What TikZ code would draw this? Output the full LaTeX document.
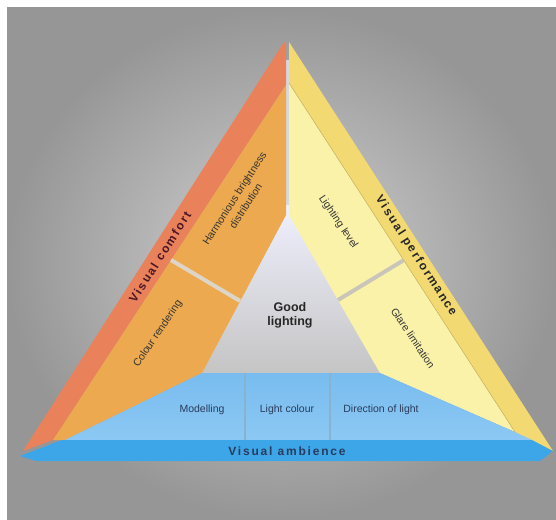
\documentclass[tikz,border=0pt]{standalone}
\usepackage{fontspec}
\setmainfont{Liberation Sans}
\newfontfamily\spacedfont[LetterSpace=15]{Liberation Sans}
\usepackage{tikz}
\usetikzlibrary{shapes.geometric, backgrounds, positioning, calc}

\definecolor{bggray}{HTML}{969696}
\definecolor{bglight}{HTML}{D2D2D2}
\definecolor{comfortred}{HTML}{E9825A}
\definecolor{comfortpanel}{HTML}{ECA94F}
\definecolor{perfyellow}{HTML}{F2D972}
\definecolor{perfpanel}{HTML}{FBF2AA}
\definecolor{perfedge}{HTML}{C9B462}
\definecolor{ambblue}{HTML}{3DA6E8}
\definecolor{ambpanel}{HTML}{78BCEF}
\definecolor{ambpanellow}{HTML}{8CC8F3}
\definecolor{divider}{HTML}{DDD6C8}
\definecolor{gapgray}{HTML}{D8D8DC}
\definecolor{labelgray}{HTML}{343434}
\definecolor{labelnavy}{HTML}{2A3B5C}
\definecolor{comforttext}{HTML}{4B1726}

\tikzset{
  side label/.style={font=\spacedfont\bfseries\fontsize{12}{14}\selectfont},
  panel label/.style={font=\fontsize{10.5}{13.5}\selectfont, text=labelgray, align=center, inner sep=1pt},
  split/.style={draw=divider, line width=4pt},
  blue split/.style={draw=ambpanellow!70!gray, line width=1.5pt},
}

\begin{document}
\begin{tikzpicture}[x=1pt,y=-1pt]
\useasboundingbox (0,0) rectangle (556,519);
\fill[white] (0,0) rectangle (556,519);
% The backdrop
\shade[inner color=bglight, outer color=bggray] (7,8) rectangle (556,519);
% Centre triangle
\fill[gapgray] (286,60) -- (289,60) -- (289,215) -- (286,215) -- cycle;
\shade[top color=white!94!blue, bottom color=black!23] (286,205) -- (289,205) -- (383,374) -- (199,374) -- cycle;
% Left side: visual comfort
\fill[comfortred] (284,42) -- (23,451) -- (53,440) -- (286,85) -- (286,44) -- cycle;
\fill[comfortpanel] (286,85) -- (53,440) -- (65,440) -- (202,373) -- (286,215) -- cycle;
\draw[split] (171,260) -- (240,301);
% Right side: visual performance
\fill[perfyellow] (289,42) -- (553,451) -- (530,441) -- (515,432) -- (289,83) -- cycle;
\fill[perfpanel] (289,83) -- (515,432) -- (380,373) -- (289,215) -- cycle;
\draw[perfedge, line width=0.6pt] (289,83) -- (515,432);
\draw[split, divider!80!gray] (338,300) -- (404,260);
% Bottom: visual ambience
\shade[top color=ambpanel, bottom color=ambpanellow] (202,373) -- (380,373) -- (515,432) -- (532,440) -- (65,440) -- cycle;
\draw[blue split] (245,373) -- (245,440);
\draw[blue split] (330,373) -- (330,440);
\fill[ambblue] (20,456) -- (62,440) -- (532,440) -- (553,451) -- (540,461) -- (36,461) -- cycle;

% Labels
\node[side label, text=comforttext, rotate=57.5] (comfort) at (160,257) {Visual comfort};
\node[side label, text=black!85, rotate=-57.2] (performance) at (416,256) {Visual performance};
\node[side label, text=labelnavy] (ambience) at (287,451) {Visual ambience};
\node[font=\bfseries\fontsize{12.5}{14}\selectfont, text=black!85, align=center] (good) at (290,315) {Good\\lighting};

\node[panel label, rotate=57] (harmony) at (240,202) {Harmonious brightness\\distribution};
\node[panel label, rotate=56] (rendering) at (158,334) {Colour rendering};
\node[panel label, rotate=-56] (level) at (338,222) {Lighting level};
\node[panel label, rotate=-56] (glare) at (413,338) {Glare limitation};
\node[panel label, text=labelnavy] (modelling) at (202,410) {Modelling};
\node[panel label, text=labelnavy] (colour) at (287,410) {Light colour};
\node[panel label, text=labelnavy] (direction) at (381,410) {Direction of light};
\end{tikzpicture}
\end{document}
